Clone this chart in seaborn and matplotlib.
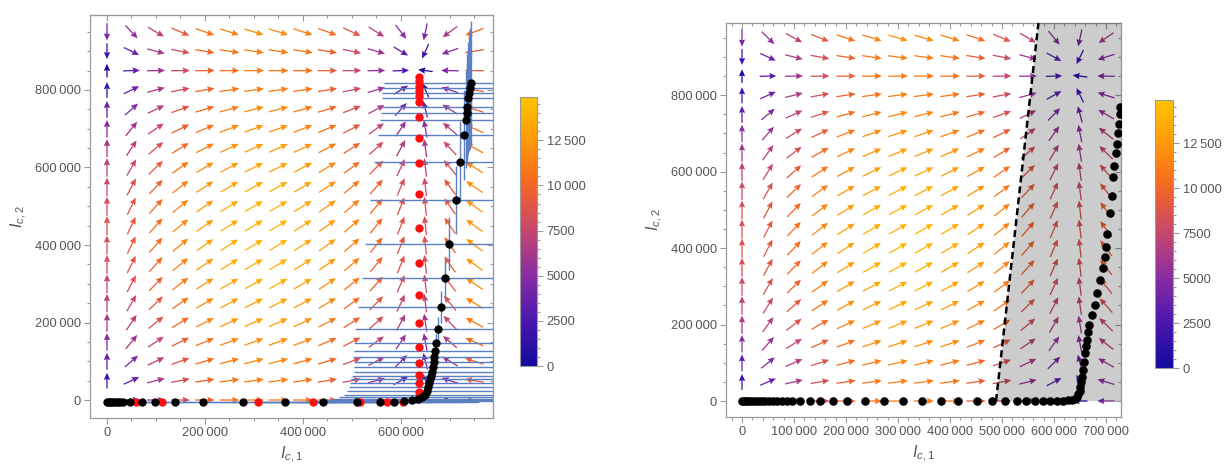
import numpy as np
import matplotlib
matplotlib.use("Agg")
import matplotlib.pyplot as plt
import seaborn as sns
from matplotlib.colors import LinearSegmentedColormap, Normalize
from matplotlib.ticker import FuncFormatter, MultipleLocator

# ---------------- data ----------------
# vector field model (logistic growth in each coordinate)
growth_1, cap_1 = 0.07, 640000
growth_2, cap_2 = 0.04, 853000
field_x_left = np.arange(0, 750001, 50000)
field_x_right = np.arange(0, 700001, 50000)
field_y = np.arange(0, 950001, 50000)
colour_max = 14900

# left panel: black points with error bars
left_black_x = [0, 3000, 6000, 9000, 13000, 17000, 22000, 27000, 33000, 47000,
                71000, 98000, 139000, 196000, 278000, 363000, 441000, 510000, 557000, 585000,
                607000, 622000,
                635000, 643000, 649000, 653000, 656000, 658000, 660000, 662000, 664000, 665500,
                667000, 668000, 669000, 671000, 676000, 682000, 690000, 698000, 712000, 720000,
                728600, 732000, 734000, 735400, 737400, 739400, 740800, 742900]
left_black_y = [-4000, -4000, -4000, -4000, -4000, -4000, -4000, -4000, -4000, -4000,
                -4000, -4000, -4000, -4000, -4000, -4000, -4000, -4000, -4000, -4000,
                -2000, 0,
                3000, 7000, 14000, 24000, 34000, 44000, 53000, 62000, 72000, 84000,
                97000, 112000, 126000, 147000, 183000, 241000, 316000, 403000, 516000, 615000,
                684000, 723000, 740000, 757000, 779000, 792000, 804000, 817000]
left_black_xerr = [0, 1000, 2000, 3000, 4000, 5000, 7000, 8000, 10000, 14000,
                   21000, 29000, 42000, 59000, 83000, 109000, 132000, 153000, 167000, 175000,
                   180000, 180000,
                   175000, 170000, 165000, 163000, 162000, 162000, 161000, 161000, 160000, 162000,
                   163000, 164000, 165000, 166000, 170000, 170000, 170000, 171000, 175000, 175000,
                   175000, 175000, 175000, 175000, 176000, 177000, 178000, 178000]
left_black_yerr = [0, 0, 0, 0, 0, 0, 0, 0, 0, 0,
                   0, 0, 0, 0, 0, 0, 0, 0, 0, 0,
                   0, 0,
                   500, 1200, 2400, 4000, 6000, 7500, 9000, 10500, 12000, 14000,
                   16500, 19000, 21000, 25000, 31000, 41000, 54000, 68000, 88000, 105000,
                   116000, 125000, 130000, 135000, 145000, 150000, 155000, 160000]

# left panel: red points
left_red_x = [22000, 60000, 112000, 309000, 421000, 516000, 571000, 605000,
              637000, 637000, 637000, 637000, 637000, 637000, 637000, 637000, 637000, 637000,
              637000, 637000, 637000, 637000, 637000, 637000, 637000, 637000, 637000, 637000]
left_red_y = [-4000, -4000, -4000, -4000, -4000, -4000, -4000, -4000,
              8500, 21400, 43000, 64500, 94700, 136000, 198000, 270000, 353000, 443000,
              532000, 611000, 675000, 731000, 770000, 784000, 797000, 810000, 822000, 833000]

# right panel: black points
right_black_x = [0, 4000, 8000, 12000, 16000, 21000, 26000, 32000, 38000, 45000,
                 52000, 60000, 68000, 77000, 87000, 97000, 111000, 131000, 150000, 175000,
                 201000, 236000, 273000, 310000, 347000, 382000, 416000, 451000, 480000, 506000,
                 528000, 547000, 564000, 579000, 592000, 605000, 617000, 627000, 635000, 640000,
                 644000, 647000, 649000, 650500, 652000, 654000, 655500, 657500, 659600, 661500,
                 663000, 665500, 668000, 672500, 679000, 683000, 688000, 693700, 698000, 699000,
                 701000, 707700, 711000, 714000, 715400, 719000, 720500, 723700, 725500, 727000,
                 727500]
right_black_y = [0, 0, 0, 0, 0, 0, 0, 0, 0, 0,
                 0, 0, 0, 0, 0, 0, 0, 0, 0, 0,
                 0, 0, 0, 0, 0, 0, 0, 0, 0, 0,
                 0, 0, 0, 0, 0, 500, 1000, 1500, 2500, 4500,
                 11000, 18000, 26000, 37000, 50000, 64000, 81000, 103000, 125000, 143000,
                 160000, 180000, 199000, 225000, 251000, 281500, 316000, 347000, 377000, 403000,
                 438000, 490700, 536000, 586000, 614000, 647600, 673700, 700000, 726000, 752000,
                 769500]

# right panel: shaded region boundary (dashed line)
boundary_x = [488500, 570000]
boundary_y = [0, 989000]

x_ticks_left = [0, 200000, 400000, 600000]
x_ticks_right = [0, 100000, 200000, 300000, 400000, 500000, 600000, 700000]
y_ticks = [0, 200000, 400000, 600000, 800000]
cbar_ticks = [0, 2500, 5000, 7500, 10000, 12500]

# ---------------- style ----------------
sns.set_style("white")
plt.rcParams["font.family"] = ["Liberation Sans", "DejaVu Sans"]
plt.rcParams["mathtext.fontset"] = "custom"
plt.rcParams["mathtext.it"] = "Liberation Sans:italic"
plt.rcParams["mathtext.rm"] = "Liberation Sans"

GREY_TXT = "#555555"
FRAME = "#9a9a9a"

cmap = LinearSegmentedColormap.from_list("field", [
    (0.00, "#140aa0"), (0.17, "#4a17ad"), (0.34, "#8a2da2"), (0.50, "#c4466f"),
    (0.62, "#e75a3c"), (0.70, "#f86d1c"), (0.85, "#ff9c08"), (1.00, "#ffc300")])
norm = Normalize(0, colour_max)


def fmt_num(v, pos=None):
    v = int(round(v))
    s = f"{abs(v):d}"
    if abs(v) >= 10000:
        s = f"{abs(v):,d}".replace(",", "\u2009")
    return ("-" if v < 0 else "") + s


W, H = 1226, 465
fig = plt.figure(figsize=(W / 100, H / 100), dpi=100)


def axes_px(x0, y0, x1, y1):
    return fig.add_axes([x0 / W, 1 - y1 / H, (x1 - x0) / W, (y1 - y0) / H])


axL = axes_px(90, 15, 493, 418)
caxL = axes_px(520, 97, 537, 366)
axR = axes_px(726, 23, 1121, 417)
caxR = axes_px(1155, 100, 1173, 368)

limsL = ((-34700, 788000), (-46400, 993500))
limsR = ((-30800, 728800), (-41800, 989000))


def draw_field(ax, gx, gy, lims, wpx, hpx):
    X, Y = np.meshgrid(gx, gy)
    U = growth_1 * X * (1 - X / cap_1)
    V = growth_2 * Y * (1 - Y / cap_2)
    M = np.hypot(U, V)
    mask = M > 0
    sx = wpx / (lims[0][1] - lims[0][0])
    sy = hpx / (lims[1][1] - lims[1][0])
    pu, pv = U * sx, V * sy
    pm = np.hypot(pu, pv)
    pm[pm == 0] = 1
    L = 21 * (0.62 + 0.38 * np.sqrt(M / colour_max))
    Ud = L * pu / pm / sx
    Vd = L * pv / pm / sy
    ax.quiver(X[mask], Y[mask], Ud[mask], Vd[mask], M[mask], cmap=cmap, norm=norm,
              angles="xy", scale_units="xy", scale=1, pivot="middle",
              width=0.0032, headwidth=5.0, headlength=5.6, headaxislength=5.0,
              zorder=2)


def style_axes(ax, lims, xt, xminor, yminor):
    ax.set_xlim(*lims[0])
    ax.set_ylim(*lims[1])
    ax.set_xticks(xt)
    ax.set_yticks(y_ticks)
    ax.xaxis.set_minor_locator(MultipleLocator(xminor))
    ax.yaxis.set_minor_locator(MultipleLocator(yminor))
    ax.xaxis.set_major_formatter(FuncFormatter(fmt_num))
    ax.yaxis.set_major_formatter(FuncFormatter(fmt_num))
    for sp in ax.spines.values():
        sp.set_color(FRAME)
        sp.set_linewidth(0.9)
    ax.tick_params(which="both", colors=FRAME, labelcolor=GREY_TXT, width=0.8)
    ax.tick_params(which="major", length=4.5, labelsize=9.3, pad=2)
    ax.tick_params(which="minor", length=2.5)
    ax.tick_params(which="both", bottom=True, left=True, direction="out")
    ax.set_xlabel("$I_{c,1}$", fontsize=11.5, color=GREY_TXT, labelpad=4)
    ax.set_ylabel("$I_{c,2}$", fontsize=11.5, color=GREY_TXT, labelpad=4)
    # inward ticks on the top and right edges
    tx = ax.secondary_xaxis("top")
    tx.set_xticks(xt)
    tx.xaxis.set_minor_locator(MultipleLocator(xminor))
    tx.tick_params(which="both", direction="in", colors=FRAME, labeltop=False, width=0.8)
    tx.tick_params(which="major", length=4.5)
    tx.tick_params(which="minor", length=2.5)
    tx.spines["top"].set_color(FRAME)
    ty = ax.secondary_yaxis("right")
    ty.set_yticks(y_ticks)
    ty.yaxis.set_minor_locator(MultipleLocator(yminor))
    ty.tick_params(which="both", direction="in", colors=FRAME, labelright=False, width=0.8)
    ty.tick_params(which="major", length=4.5)
    ty.tick_params(which="minor", length=2.5)
    ty.spines["right"].set_color(FRAME)


def style_cbar(cax):
    sm = plt.cm.ScalarMappable(norm=norm, cmap=cmap)
    cb = fig.colorbar(sm, cax=cax)
    cb.set_ticks(cbar_ticks)
    cb.ax.yaxis.set_major_formatter(FuncFormatter(fmt_num))
    cb.ax.yaxis.set_minor_locator(MultipleLocator(500))
    cb.outline.set_edgecolor(FRAME)
    cb.outline.set_linewidth(0.8)
    cb.ax.tick_params(which="both", colors=FRAME, labelcolor=GREY_TXT, width=0.8)
    cb.ax.tick_params(which="major", length=4, labelsize=9.3, pad=3)
    cb.ax.tick_params(which="minor", length=2)


# ---------------- left panel ----------------
draw_field(axL, field_x_left, field_y, limsL, 403, 403)
axL.errorbar(left_black_x, left_black_y, xerr=left_black_xerr, yerr=left_black_yerr,
             fmt="none", ecolor="#5b80c2", elinewidth=1.0, capsize=0, zorder=3)
sns.scatterplot(x=left_red_x, y=left_red_y, color="#ff1010", s=36, linewidth=0,
                ax=axL, zorder=4, legend=False)
sns.scatterplot(x=left_black_x, y=left_black_y, color="black", s=36, linewidth=0,
                ax=axL, zorder=5, legend=False)
style_axes(axL, limsL, x_ticks_left, 50000, 50000)
style_cbar(caxL)

# ---------------- right panel ----------------
draw_field(axR, field_x_right, field_y, limsR, 395, 394)
top_y = limsR[1][1]
slope = (boundary_x[1] - boundary_x[0]) / (boundary_y[1] - boundary_y[0])
x_top = boundary_x[0] + slope * (top_y - boundary_y[0])
axR.fill([boundary_x[0], x_top, limsR[0][1] + 1e4, limsR[0][1] + 1e4],
         [boundary_y[0], top_y, top_y, boundary_y[0]],
         color="black", alpha=0.2, lw=0, zorder=3)
axR.plot([boundary_x[0], x_top], [boundary_y[0], top_y], color="black", lw=1.8,
         ls=(0, (2.8, 1.6)), zorder=4)
sns.scatterplot(x=right_black_x, y=right_black_y, color="black", s=38, linewidth=0,
                ax=axR, zorder=5, legend=False)
style_axes(axR, limsR, x_ticks_right, 20000, 50000)
style_cbar(caxR)

fig.savefig("out.png", dpi=100)
